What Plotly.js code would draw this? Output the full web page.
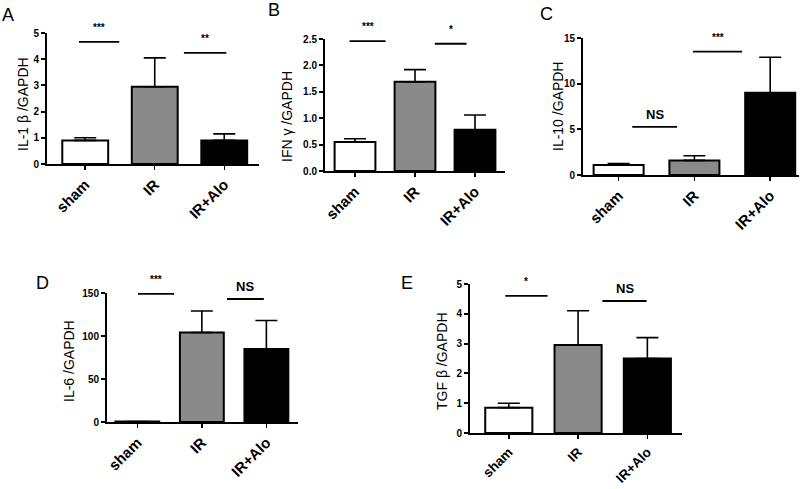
<!DOCTYPE html>
<html>
<head>
<meta charset="utf-8">
<script src="https://cdn.plot.ly/plotly-3.0.1.min.js"></script>
<style>html,body{margin:0;padding:0;background:#fff;}#chart{width:801px;height:489px;}</style>
</head>
<body>
<div id="chart"></div>
<script>
// ---- data ----
const groups = ["sham", "IR", "IR+Alo"];
const barColors = ["#ffffff", "#8a8a8a", "#000000"];

const il1bMean = [0.9, 2.95, 0.9];
const il1bTop  = [1.0, 4.05, 1.15];
const ifngMean = [0.55, 1.69, 0.78];
const ifngTop  = [0.61, 1.92, 1.06];
const il10Mean = [1.1, 1.6, 9.0];
const il10Top  = [1.25, 2.1, 12.9];
const il6Mean  = [0.5, 104, 85];
const il6Top   = [0.5, 129, 118];
const tgfbMean = [0.85, 2.95, 2.5];
const tgfbTop  = [1.0, 4.1, 3.2];

const panelLetters = ["A", "B", "C", "D", "E"];
const yTitles = ["IL-1 β /GAPDH", "IFN γ /GAPDH", "IL-10 /GAPDH", "IL-6 /GAPDH", "TGF β /GAPDH"];

// significance brackets: [x start, x end, y, label]
const sigA = [[-0.09, 0.49, 4.66, "***"], [1.42, 2.03, 4.24, "**"]];
const sigB = [[-0.09, 0.51, 2.46, "***"], [1.33, 1.86, 2.41, "*"]];
const sigC = [[0.18, 0.77, 5.26, "NS"], [0.98, 1.63, 13.5, "***"]];
const sigD = [[0.01, 0.57, 149, "***"], [1.39, 1.96, 143, "NS"]];
const sigE = [[-0.05, 0.56, 4.6, "*"], [1.35, 1.99, 4.43, "NS"]];

// ---- layout geometry (pixels) ----
const W = 801, H = 489;
const panels = [
  {mean: il1bMean, top: il1bTop, sig: sigA, px: [47, 259], py: [33, 164], yr: [0, 5], dt: 1, fmt: "", xr: [-0.55, 2.5], bw: 0.66,
   title: [23, 104], letter: [8, 15], xfs: 15},
  {mean: ifngMean, top: ifngTop, sig: sigB, px: [325, 505], py: [39, 171], yr: [0, 2.5], dt: 0.5, fmt: ".1f", xr: [-0.5, 2.5], bw: 0.68,
   title: [287, 117], letter: [274, 10], xfs: 15},
  {mean: il10Mean, top: il10Top, sig: sigC, px: [583, 799], py: [38, 175], yr: [0, 15], dt: 5, fmt: "", xr: [-0.47, 2.38], bw: 0.66,
   title: [558, 107], letter: [546, 14], xfs: 15},
  {mean: il6Mean, top: il6Top, sig: sigD, px: [107, 298], py: [293, 422], yr: [0, 150], dt: 50, fmt: "", xr: [-0.47, 2.49], bw: 0.68,
   title: [69, 361], letter: [42, 283], xfs: 15},
  {mean: tgfbMean, top: tgfbTop, sig: sigE, px: [470, 682], py: [284, 433], yr: [0, 5], dt: 1, fmt: "", xr: [-0.56, 2.5], bw: 0.68,
   title: [442, 361], letter: [407, 283], xfs: 13.5}
];

const data = [];
const layout = {
  width: W, height: H,
  margin: {l: 0, r: 0, t: 0, b: 0},
  paper_bgcolor: "#ffffff", plot_bgcolor: "rgba(0,0,0,0)",
  showlegend: false,
  font: {family: "Liberation Sans, Arial, sans-serif", color: "#000"},
  shapes: [], annotations: []
};

panels.forEach((p, i) => {
  const n = i === 0 ? "" : String(i + 1);
  const xa = "x" + n, ya = "y" + n;
  data.push({
    type: "bar", x: groups, y: p.mean, xaxis: xa, yaxis: ya,
    width: p.bw,
    marker: {color: barColors, line: {color: "#000", width: 2}},
    error_y: {type: "data", symmetric: false,
      array: p.top.map((t, k) => t - p.mean[k]), arrayminus: p.mean.map(() => 0),
      color: "#000", thickness: 1.6, width: 11},
    hoverinfo: "skip"
  });
  layout["xaxis" + n] = {
    domain: [p.px[0] / W, p.px[1] / W], anchor: ya,
    type: "category", range: p.xr, showgrid: false, zeroline: false,
    showline: true, linecolor: "#000", linewidth: 2,
    ticks: "outside", ticklen: 4, tickwidth: 1.5, tickcolor: "#000",
    tickangle: -45, tickfont: {size: p.xfs, family: "Liberation Sans, Arial", weight: "bold", color: "#000"},
    fixedrange: true
  };
  layout["yaxis" + n] = {
    domain: [1 - p.py[1] / H, 1 - p.py[0] / H], anchor: xa,
    range: p.yr, dtick: p.dt, tick0: 0, tickformat: p.fmt, showgrid: false, zeroline: false,
    showline: true, linecolor: "#000", linewidth: 2,
    ticks: "outside", ticklen: 4, tickwidth: 2, tickcolor: "#000",
    tickfont: {size: 10, family: "Liberation Sans, Arial", weight: "bold", color: "#000"},
    fixedrange: true
  };
  p.sig.forEach(s => {
    layout.shapes.push({type: "line", xref: xa, yref: ya, x0: s[0], x1: s[1], y0: s[2], y1: s[2],
      line: {color: "#000", width: 1.8}});
    const isNS = s[3] === "NS";
    layout.annotations.push({xref: xa, yref: ya, x: (s[0] + s[1]) / 2, y: s[2],
      text: s[3], showarrow: false, yanchor: "bottom", yshift: isNS ? 3 : 7,
      font: {size: isNS ? 13 : 10, family: "Liberation Sans, Arial", weight: "bold", color: "#000"}});
  });
  layout.annotations.push({xref: "paper", yref: "paper", x: p.title[0] / W, y: 1 - p.title[1] / H,
    text: yTitles[i], textangle: -90, showarrow: false, xanchor: "center", yanchor: "middle",
    font: {size: 14, family: "Liberation Sans, Arial", color: "#000"}});
  layout.annotations.push({xref: "paper", yref: "paper", x: p.letter[0] / W, y: 1 - p.letter[1] / H,
    text: panelLetters[i], showarrow: false, xanchor: "center", yanchor: "middle",
    font: {size: 18, family: "Liberation Sans, Arial", color: "#000"}});
});

Plotly.newPlot("chart", data, layout, {staticPlot: true, displayModeBar: false});
</script>
</body>
</html>
